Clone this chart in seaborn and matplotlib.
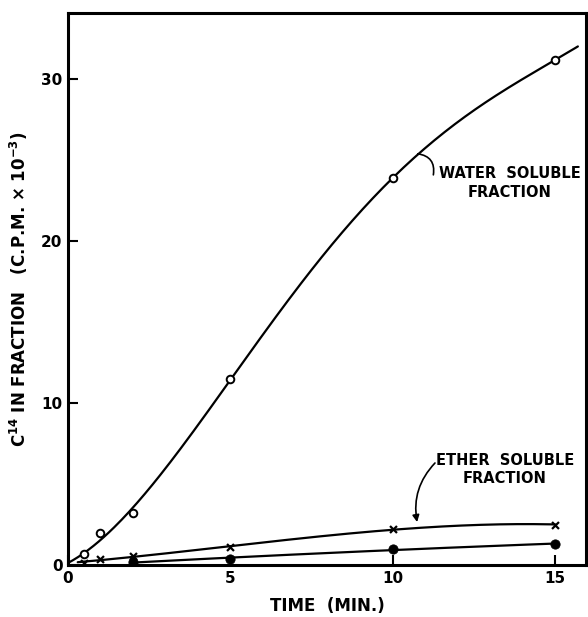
import numpy as np
import pandas as pd
import matplotlib
matplotlib.use("Agg")
import matplotlib.pyplot as plt
import seaborn as sns

# values
water_time = [0.5, 1, 2, 5, 10, 15]
water_cpm = [0.7, 2.0, 3.2, 11.5, 23.9, 31.2]

ether_x_time = [0.5, 1, 2, 5, 10, 15]
ether_x_cpm = [0.1, 0.4, 0.55, 1.1, 2.2, 2.5]

ether_dot_time = [2, 5, 10, 15]
ether_dot_cpm = [0.2, 0.35, 1.0, 1.3]

x_ticks = [0, 5, 10, 15]
y_ticks = [0, 10, 20, 30]

sns.set_style("ticks")
plt.rcParams["font.family"] = ["DejaVu Sans"]
plt.rcParams["font.weight"] = "bold"
plt.rcParams["text.color"] = "black"
plt.rcParams["axes.labelcolor"] = "black"
plt.rcParams["axes.labelweight"] = "bold"

fig = plt.figure(figsize=(5.88, 6.17), dpi=100)
ax = fig.add_axes([0.1156, 0.0843, 0.881, 0.8947])


def smooth(t, y, deg, t0, t1, through_origin=False):
    t = np.asarray(t, float)
    y = np.asarray(y, float)
    if through_origin:
        t = np.r_[0.0, t]
        y = np.r_[0.0, y]
    coef = np.polyfit(t, y, deg)
    tt = np.linspace(t0, t1, 200)
    return pd.DataFrame({"t": tt, "y": np.polyval(coef, tt)})


water_curve = smooth(water_time, water_cpm, 4, 0.0, 15.7, through_origin=True)
x_curve = smooth(ether_x_time, ether_x_cpm, 3, 0.3, 15.0)
dot_curve = smooth(ether_dot_time, ether_dot_cpm, 2, 2.0, 15.0)

for crv in (water_curve, x_curve, dot_curve):
    sns.lineplot(data=crv, x="t", y="y", color="black", lw=1.6, ax=ax)

sns.scatterplot(x=water_time, y=water_cpm, marker="o", s=30, facecolor="white",
                edgecolor="black", linewidth=1.4, ax=ax, zorder=3)
sns.scatterplot(x=ether_x_time, y=ether_x_cpm, marker="x", s=25, color="black",
                linewidth=1.6, ax=ax, zorder=3)
sns.scatterplot(x=ether_dot_time, y=ether_dot_cpm, marker="o", s=45, color="black",
                edgecolor="black", ax=ax, zorder=3)

ax.set_xlim(0, 15.95)
ax.set_ylim(0, 34.1)
ax.set_xticks(x_ticks)
ax.set_yticks(y_ticks)
ax.tick_params(direction="in", length=7, width=1.5, labelsize=11, pad=4,
               color="black", labelcolor="black")
for sp in ax.spines.values():
    sp.set_linewidth(2.2)
    sp.set_color("black")
    sp.set_visible(True)

ax.set_xlabel("TIME  (MIN.)", fontsize=12, labelpad=8)
ax.set_ylabel(r"C$^{\mathbf{14}}$ IN FRACTION   (C.P.M. $\times$ 10$^{\mathbf{-3}}$)",
              fontsize=12, labelpad=8)

# water soluble label with wavy leader
ax.text(13.6, 23.6, "WATER  SOLUBLE\nFRACTION", ha="center", va="center",
        fontsize=10.5, linespacing=1.3)
ax.annotate("", xy=(10.77, 25.4), xytext=(11.25, 24.1),
            arrowprops=dict(arrowstyle="-", color="black", lw=1.2,
                            shrinkA=0, shrinkB=0,
                            connectionstyle="arc3,rad=0.5"))

# ether soluble label with arrow
ax.text(13.45, 5.9, "ETHER  SOLUBLE\nFRACTION", ha="center", va="center",
        fontsize=10.5, linespacing=1.3)
ax.annotate("", xy=(10.75, 2.65), xytext=(11.3, 6.3),
            arrowprops=dict(arrowstyle="-|>", color="black", lw=1.2,
                            shrinkA=0, shrinkB=0, mutation_scale=10,
                            connectionstyle="arc3,rad=0.25"))

fig.savefig("out.png", dpi=100)
